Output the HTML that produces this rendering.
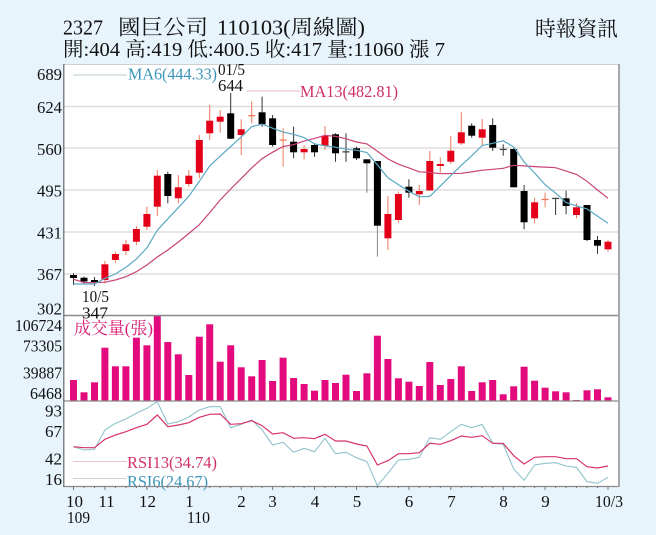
<!DOCTYPE html>
<html><head><meta charset="utf-8"><style>
html,body{margin:0;padding:0;background:#e8f4fc;}
svg{display:block;}
text{font-family:"Liberation Serif","Noto Serif CJK SC",serif;}
.r{fill:#e5001a;}
.b{fill:#000;}
.wr{stroke:#ee7a5a;stroke-width:1;}
.wb{stroke:#333;stroke-width:1;}
.grid{stroke:#dedede;stroke-width:1.5;}
.ax{font-size:17px;fill:#111;}
.v{fill:#e20a7c;}
</style></head><body>
<svg width="656" height="535" viewBox="0 0 656 535" xmlns="http://www.w3.org/2000/svg">
<rect x="0" y="0" width="656" height="535" fill="#e8f4fc"/>
<text x="63" y="34.5" font-size="21" textLength="40" lengthAdjust="spacingAndGlyphs" fill="#111">2327</text>
<text x="118" y="34.5" font-size="21" textLength="90" lengthAdjust="spacingAndGlyphs" fill="#111">國巨公司</text>
<text x="217" y="34.5" font-size="21" textLength="148" lengthAdjust="spacingAndGlyphs" fill="#111">110103(周線圖)</text>
<text x="63" y="56" font-size="20" textLength="382" lengthAdjust="spacingAndGlyphs" fill="#111">開:404 高:419 低:400.5 收:417 量:11060 漲 7</text>
<text x="535" y="36" font-size="21" textLength="83" lengthAdjust="spacingAndGlyphs" fill="#111">時報資訊</text>
<rect x="64" y="64" width="554" height="422" fill="#fff"/>
<line x1="64" y1="64.5" x2="618" y2="64.5" stroke="#d0d0d0" stroke-width="1"/>
<line class="grid" x1="64" y1="106.5" x2="618" y2="106.5"/>
<line class="grid" x1="64" y1="148" x2="618" y2="148"/>
<line class="grid" x1="64" y1="190" x2="618" y2="190"/>
<line class="grid" x1="64" y1="232" x2="618" y2="232"/>
<line class="grid" x1="64" y1="274" x2="618" y2="274"/>
<g class="ax" text-anchor="end">
<text x="62" y="80" textLength="25" lengthAdjust="spacingAndGlyphs">689</text>
<text x="62" y="113" textLength="25" lengthAdjust="spacingAndGlyphs">624</text>
<text x="62" y="155" textLength="25" lengthAdjust="spacingAndGlyphs">560</text>
<text x="62" y="196.5" textLength="25" lengthAdjust="spacingAndGlyphs">495</text>
<text x="62" y="238.5" textLength="25" lengthAdjust="spacingAndGlyphs">431</text>
<text x="62" y="280" textLength="25" lengthAdjust="spacingAndGlyphs">367</text>
<text x="62" y="314.5" textLength="25" lengthAdjust="spacingAndGlyphs">302</text>
</g>
<line x1="73" y1="75" x2="127" y2="75" stroke="#b9cdd3" stroke-width="1"/>
<text x="128" y="79.5" font-size="17" fill="#3a95b8" textLength="89" lengthAdjust="spacingAndGlyphs">MA6(444.33)</text>
<text x="218" y="75" font-size="17" fill="#111" textLength="27" lengthAdjust="spacingAndGlyphs">01/5</text>
<text x="218" y="91" font-size="17" fill="#111" textLength="25" lengthAdjust="spacingAndGlyphs">644</text>
<line x1="247" y1="91" x2="300" y2="91" stroke="#e6b5c8" stroke-width="1"/>
<text x="300" y="97" font-size="17" fill="#d0306a" textLength="98" lengthAdjust="spacingAndGlyphs">MA13(482.81)</text>
<g>
<line class="wb" x1="73.5" y1="273.3" x2="73.5" y2="285"/><rect class="b" x="70" y="275" width="7" height="3"/>
<line class="wb" x1="84" y1="276.5" x2="84" y2="284"/><rect class="b" x="80.5" y="277.7" width="7" height="3.8"/>
<line class="wb" x1="94.5" y1="277" x2="94.5" y2="286"/><rect class="b" x="91" y="280" width="7" height="2"/>
<line class="wr" x1="104.9" y1="261" x2="104.9" y2="283.5"/><rect class="r" x="101.4" y="264.3" width="7" height="15.7"/>
<line class="wr" x1="115.4" y1="251.7" x2="115.4" y2="263"/><rect class="r" x="111.9" y="254" width="7" height="6"/>
<line class="wr" x1="125.9" y1="240" x2="125.9" y2="255"/><rect class="r" x="122.4" y="244.3" width="7" height="6.7"/>
<line class="wr" x1="136.4" y1="226" x2="136.4" y2="245"/><rect class="r" x="132.9" y="229" width="7" height="12.7"/>
<line class="wr" x1="146.9" y1="206.7" x2="146.9" y2="230"/><rect class="r" x="143.4" y="214" width="7" height="12.7"/>
<line class="wr" x1="157.3" y1="170" x2="157.3" y2="216"/><rect class="r" x="153.8" y="175.7" width="7" height="31"/>
<line class="wb" x1="167.8" y1="171.7" x2="167.8" y2="203.3"/><rect class="b" x="164.3" y="174" width="7" height="22"/>
<line class="wr" x1="178.3" y1="175" x2="178.3" y2="203.3"/><rect class="r" x="174.8" y="187.3" width="7" height="11"/>
<line class="wr" x1="188.8" y1="170" x2="188.8" y2="186.7"/><rect class="r" x="185.3" y="175.7" width="7" height="8.3"/>
<line class="wr" x1="199.3" y1="135" x2="199.3" y2="178.3"/><rect class="r" x="195.8" y="140" width="7" height="32.7"/>
<line class="wr" x1="209.7" y1="105" x2="209.7" y2="140"/><rect class="r" x="206.2" y="120.7" width="7" height="12.6"/>
<line class="wr" x1="220.2" y1="110" x2="220.2" y2="132.7"/><rect class="r" x="216.7" y="116.7" width="7" height="5"/>
<line class="wb" x1="230.7" y1="93" x2="230.7" y2="139"/><rect class="b" x="227.2" y="113.3" width="7" height="25.4"/>
<line class="wr" x1="241.2" y1="119.3" x2="241.2" y2="155"/><rect class="r" x="237.7" y="129.3" width="7" height="5.7"/>
<line class="wr" x1="251.7" y1="101.5" x2="251.7" y2="123.3"/><rect fill="#ee7a5a" x="248.2" y="115" width="7" height="1.3"/>
<line class="wb" x1="262.1" y1="96.7" x2="262.1" y2="126.7"/><rect class="b" x="258.6" y="112.3" width="7" height="12"/>
<line class="wb" x1="272.6" y1="115" x2="272.6" y2="146.7"/><rect class="b" x="269.1" y="118.3" width="7" height="26.7"/>
<line class="wr" x1="283.1" y1="128.3" x2="283.1" y2="166.7"/><rect fill="#ee7a5a" x="279.6" y="139.5" width="7" height="1.3"/>
<line class="wb" x1="293.6" y1="126.7" x2="293.6" y2="158.3"/><rect class="b" x="290.1" y="141.7" width="7" height="10.6"/>
<line class="wr" x1="304.1" y1="145" x2="304.1" y2="159.3"/><rect class="r" x="300.6" y="149" width="7" height="3.3"/>
<line class="wb" x1="314.5" y1="143.3" x2="314.5" y2="156.7"/><rect class="b" x="311" y="145" width="7" height="7.3"/>
<line class="wr" x1="325" y1="126" x2="325" y2="150"/><rect class="r" x="321.5" y="136" width="7" height="9.7"/>
<line class="wb" x1="335.5" y1="133.3" x2="335.5" y2="161.7"/><rect class="b" x="332" y="134.3" width="7" height="19"/>
<line class="wb" x1="346" y1="133.3" x2="346" y2="161.7"/><rect fill="#444" x="342.5" y="151.2" width="7" height="1.3"/>
<line class="wb" x1="356.5" y1="146.7" x2="356.5" y2="160"/><rect class="b" x="353" y="148.3" width="7" height="10"/>
<line stroke="#777" x1="366.9" y1="159.3" x2="366.9" y2="192.7"/><rect class="b" x="363.4" y="159.3" width="7" height="4"/>
<line stroke="#888" x1="377.4" y1="161" x2="377.4" y2="256.7"/><rect class="b" x="373.9" y="161" width="7" height="64.7"/>
<line class="wr" x1="387.9" y1="196" x2="387.9" y2="250"/><rect class="r" x="384.4" y="214" width="7" height="24.3"/>
<line class="wr" x1="398.4" y1="191.7" x2="398.4" y2="222.7"/><rect class="r" x="394.9" y="194" width="7" height="26"/>
<line class="wb" x1="408.9" y1="179.3" x2="408.9" y2="197.7"/><rect class="b" x="405.4" y="186.7" width="7" height="6"/>
<line class="wr" x1="419.3" y1="185" x2="419.3" y2="205"/><rect class="r" x="415.8" y="191" width="7" height="3.3"/>
<line class="wr" x1="429.8" y1="151" x2="429.8" y2="190.5"/><rect class="r" x="426.3" y="161" width="7" height="29.5"/>
<line class="wr" x1="440.3" y1="157.3" x2="440.3" y2="172.7"/><rect class="r" x="436.8" y="164" width="7" height="2"/>
<line class="wr" x1="450.8" y1="136" x2="450.8" y2="164"/><rect class="r" x="447.3" y="150.7" width="7" height="11"/>
<line class="wr" x1="461.3" y1="112.3" x2="461.3" y2="145"/><rect class="r" x="457.8" y="132.3" width="7" height="11"/>
<line class="wb" x1="471.7" y1="123.3" x2="471.7" y2="137.7"/><rect class="b" x="468.2" y="125.7" width="7" height="10"/>
<line class="wr" x1="482.2" y1="119" x2="482.2" y2="145"/><rect class="r" x="478.7" y="129.3" width="7" height="8.4"/>
<line class="wb" x1="492.7" y1="118.3" x2="492.7" y2="151"/><rect class="b" x="489.2" y="125" width="7" height="22.7"/>
<line class="wb" x1="503.2" y1="144.3" x2="503.2" y2="155.7"/><rect fill="#444" x="499.7" y="148.8" width="7" height="1.3"/>
<line class="wb" x1="513.7" y1="148.3" x2="513.7" y2="187.3"/><rect class="b" x="510.2" y="149" width="7" height="38.3"/>
<line class="wb" x1="524.1" y1="185" x2="524.1" y2="229.3"/><rect class="b" x="520.6" y="191" width="7" height="31.3"/>
<line class="wr" x1="534.6" y1="197.7" x2="534.6" y2="223.3"/><rect class="r" x="531.1" y="202.3" width="7" height="16"/>
<line class="wr" x1="545.1" y1="192.7" x2="545.1" y2="207.3"/><rect fill="#ee7a5a" x="541.6" y="198.8" width="7" height="1.3"/>
<line class="wb" x1="555.6" y1="197.7" x2="555.6" y2="215"/><rect fill="#444" x="552.1" y="197.8" width="7" height="1.3"/>
<line class="wb" x1="566.1" y1="190.7" x2="566.1" y2="214.3"/><rect class="b" x="562.6" y="198.3" width="7" height="7.7"/>
<line class="wr" x1="576.5" y1="203.3" x2="576.5" y2="218.3"/><rect class="r" x="573" y="207.3" width="7" height="7.7"/>
<line class="wb" x1="587" y1="205" x2="587" y2="241"/><rect class="b" x="583.5" y="205" width="7" height="35"/>
<line class="wb" x1="597.5" y1="236" x2="597.5" y2="254"/><rect class="b" x="594" y="240" width="7" height="5.7"/>
<line class="wr" x1="608" y1="240" x2="608" y2="251.7"/><rect class="r" x="604.5" y="241.7" width="7" height="7.6"/>
</g>
<polyline fill="none" stroke="#c9437a" stroke-width="1.2" points="73.5,279.3 84,282.5 94.5,282.7 104.9,282.2 115.4,280 125.9,276.7 136.4,271.7 146.9,265 157.3,257 167.8,250 178.3,242 188.8,233.5 199.3,224.7 209.7,212.6 220.2,200 230.7,189 241.2,178.6 251.7,167.9 262.1,158.6 272.6,152.2 283.1,146.5 293.6,144.7 304.1,141.1 314.5,138.4 325,135.3 335.5,136.4 346,138.8 356.5,142 366.9,143.9 377.4,151.3 387.9,158.9 398.4,164.2 408.9,167.9 419.3,171.8 429.8,172.5 440.3,173.7 450.8,173.5 461.3,173.3 471.7,171.9 482.2,170.2 492.7,169.3 503.2,168.3 513.7,165.3 524.1,165.9 534.6,166.6 545.1,167.1 555.6,167.7 566.1,171.1 576.5,174.4 587,181.3 597.5,190 608,198.2"/>
<polyline fill="none" stroke="#5aa8c4" stroke-width="1.2" points="73.5,284 84,284 94.5,284 104.9,278.3 115.4,274 125.9,267.3 136.4,259.1 146.9,247.9 157.3,230.2 167.8,218.8 178.3,207.7 188.8,196.3 199.3,181.4 209.7,165.9 220.2,156.1 230.7,146.5 241.2,136.9 251.7,126.7 262.1,124.1 272.6,128.2 283.1,132.1 293.6,134.3 304.1,137.6 314.5,143.8 325,145.8 335.5,147.2 346,149.2 356.5,150.2 366.9,152.5 377.4,164.8 387.9,177.8 398.4,184.6 408.9,191.3 419.3,196.8 429.8,196.4 440.3,186.1 450.8,175.6 461.3,165.3 471.7,155.8 482.2,145.5 492.7,143.3 503.2,140.8 513.7,146.9 524.1,161.9 534.6,173 545.1,184.7 555.6,193.1 566.1,202.6 576.5,205.9 587,208.9 597.5,216.1 608,223.2"/>
<text x="82" y="302" font-size="17" fill="#111" textLength="27" lengthAdjust="spacingAndGlyphs">10/5</text>
<g class="v">
<rect x="70" y="380" width="7" height="21"/>
<rect x="80.5" y="392.3" width="7" height="8.7"/>
<rect x="91" y="382.3" width="7" height="18.7"/>
<rect x="101.4" y="347.7" width="7" height="53.3"/>
<rect x="111.9" y="366.3" width="7" height="34.7"/>
<rect x="122.4" y="366.3" width="7" height="34.7"/>
<rect x="132.9" y="337.7" width="7" height="63.3"/>
<rect x="143.4" y="345.3" width="7" height="55.7"/>
<rect x="153.8" y="315.7" width="7" height="85.3"/>
<rect x="164.3" y="342" width="7" height="59"/>
<rect x="174.8" y="354.3" width="7" height="46.7"/>
<rect x="185.3" y="375" width="7" height="26"/>
<rect x="195.8" y="336.7" width="7" height="64.3"/>
<rect x="206.2" y="324.3" width="7" height="76.7"/>
<rect x="216.7" y="361.7" width="7" height="39.3"/>
<rect x="227.2" y="345.3" width="7" height="55.7"/>
<rect x="237.7" y="367.3" width="7" height="33.7"/>
<rect x="248.2" y="376.3" width="7" height="24.7"/>
<rect x="258.6" y="360" width="7" height="41"/>
<rect x="269.1" y="381" width="7" height="20"/>
<rect x="279.6" y="357.7" width="7" height="43.3"/>
<rect x="290.1" y="378" width="7" height="23"/>
<rect x="300.6" y="384" width="7" height="17"/>
<rect x="311" y="390.7" width="7" height="10.3"/>
<rect x="321.5" y="380" width="7" height="21"/>
<rect x="332" y="383" width="7" height="18"/>
<rect x="342.5" y="374.7" width="7" height="26.3"/>
<rect x="353" y="391" width="7" height="10"/>
<rect x="363.4" y="373.3" width="7" height="27.7"/>
<rect x="373.9" y="335.7" width="7" height="65.3"/>
<rect x="384.4" y="359" width="7" height="42"/>
<rect x="394.9" y="378.3" width="7" height="22.7"/>
<rect x="405.4" y="381.7" width="7" height="19.3"/>
<rect x="415.8" y="386" width="7" height="15"/>
<rect x="426.3" y="362" width="7" height="39"/>
<rect x="436.8" y="385" width="7" height="16"/>
<rect x="447.3" y="379" width="7" height="22"/>
<rect x="457.8" y="366.3" width="7" height="34.7"/>
<rect x="468.2" y="391" width="7" height="10"/>
<rect x="478.7" y="382.3" width="7" height="18.7"/>
<rect x="489.2" y="380" width="7" height="21"/>
<rect x="499.7" y="394.3" width="7" height="6.7"/>
<rect x="510.2" y="386.3" width="7" height="14.7"/>
<rect x="520.6" y="366.7" width="7" height="34.3"/>
<rect x="531.1" y="380.7" width="7" height="20.3"/>
<rect x="541.6" y="387.7" width="7" height="13.3"/>
<rect x="552.1" y="391.3" width="7" height="9.7"/>
<rect x="562.6" y="392.3" width="7" height="8.7"/>
<rect x="573" y="400" width="7" height="1"/>
<rect x="583.5" y="390.3" width="7" height="10.7"/>
<rect x="594" y="389.3" width="7" height="11.7"/>
<rect x="604.5" y="397.3" width="7" height="3.7"/>
</g>
<line x1="64" y1="315.5" x2="618" y2="315.5" stroke="#8a8a8a" stroke-width="1.5"/>
<line x1="64" y1="401" x2="618" y2="401" stroke="#8a8a8a" stroke-width="1.2"/>
<text x="82" y="318.5" font-size="17" fill="#111" textLength="26" lengthAdjust="spacingAndGlyphs">347</text>
<text x="74" y="334" font-size="17" fill="#d81b72" textLength="79" lengthAdjust="spacingAndGlyphs">成交量(張)</text>
<g class="ax" text-anchor="end">
<text x="62" y="331" textLength="47" lengthAdjust="spacingAndGlyphs">106724</text>
<text x="62" y="351.5" textLength="39" lengthAdjust="spacingAndGlyphs">73305</text>
<text x="62" y="378.5" textLength="39" lengthAdjust="spacingAndGlyphs">39887</text>
<text x="62" y="399" textLength="32" lengthAdjust="spacingAndGlyphs">6468</text>
</g>
<polyline fill="none" stroke="#8fc3cc" stroke-width="1.1" points="73.5,446.7 84,450 94.5,449.3 104.9,430 115.4,423.3 125.9,419 136.4,413.3 146.9,408.3 157.3,401.7 167.8,424 178.3,421.7 188.8,417 199.3,410 209.7,406.7 220.2,406.7 230.7,427.7 241.2,424.3 251.7,420 262.1,430 272.6,445 283.1,442.3 293.6,452.3 304.1,448.3 314.5,451.7 325,438.3 335.5,453.7 346,452.3 356.5,457.7 366.9,461.7 377.4,485.7 387.9,473.3 398.4,460 408.9,459.3 419.3,457.3 429.8,437.7 440.3,439.3 450.8,431.7 461.3,424.3 471.7,427.7 482.2,424.3 492.7,443.3 503.2,444.3 513.7,469 524.1,480.3 534.6,465 545.1,463.3 555.6,462.7 566.1,466 576.5,467.3 587,481.7 597.5,483.3 608,477.3"/>
<polyline fill="none" stroke="#d6336c" stroke-width="1.2" points="73.5,446.7 84,447.7 94.5,447.7 104.9,439.3 115.4,435 125.9,431.7 136.4,427.7 146.9,424.3 157.3,415 167.8,426.7 178.3,425 188.8,422.7 199.3,417.3 209.7,414.3 220.2,414 230.7,424.3 241.2,423.7 251.7,420.7 262.1,425.7 272.6,434 283.1,432.7 293.6,438.3 304.1,437.7 314.5,438.7 325,434.3 335.5,441 346,441 356.5,444 366.9,446 377.4,465 387.9,460.7 398.4,453.7 408.9,453.7 419.3,452.7 429.8,443.3 440.3,444.3 450.8,440.7 461.3,436 471.7,437.3 482.2,435.7 492.7,443.3 503.2,443.3 513.7,455.7 524.1,464 534.6,457.3 545.1,456.7 555.6,456.7 566.1,458.7 576.5,458.7 587,466.7 597.5,468 608,466"/>
<line x1="73" y1="461.5" x2="127" y2="461.5" stroke="#ecc3d2" stroke-width="1"/>
<text x="127" y="468" font-size="17" fill="#d0306a" textLength="90" lengthAdjust="spacingAndGlyphs">RSI13(34.74)</text>
<line x1="73" y1="478.5" x2="127" y2="478.5" stroke="#c8d3d6" stroke-width="1"/>
<text x="127" y="487" font-size="17" fill="#3a95b8" textLength="81" lengthAdjust="spacingAndGlyphs">RSI6(24.67)</text>
<g class="ax" text-anchor="end">
<text x="62" y="416.5" textLength="17" lengthAdjust="spacingAndGlyphs">93</text>
<text x="62" y="437" textLength="17" lengthAdjust="spacingAndGlyphs">67</text>
<text x="62" y="464.5" textLength="17" lengthAdjust="spacingAndGlyphs">42</text>
<text x="62" y="485" textLength="17" lengthAdjust="spacingAndGlyphs">16</text>
</g>
<line x1="63.8" y1="64" x2="63.8" y2="487" stroke="#666" stroke-width="1.2"/>
<line x1="64" y1="486.5" x2="619" y2="486.5" stroke="#888" stroke-width="1.2"/>
<line x1="619" y1="64" x2="619" y2="487" stroke="#a8a8a8" stroke-width="2"/>
<path stroke="#777" stroke-width="1" fill="none" d="M73.5 486v4M84 486v2M94.5 486v2M104.9 486v4M115.4 486v2M125.9 486v2M136.4 486v2M146.9 486v4M157.3 486v2M167.8 486v2M178.3 486v2M188.8 486v4M199.3 486v2M209.7 486v2M220.2 486v2M230.7 486v2M241.2 486v4M251.7 486v2M262.1 486v2M272.6 486v4M283.1 486v2M293.6 486v2M304.1 486v2M314.5 486v4M325 486v2M335.5 486v2M346 486v2M356.5 486v4M366.9 486v2M377.4 486v2M387.9 486v2M398.4 486v2M408.9 486v4M419.3 486v2M429.8 486v2M440.3 486v2M450.8 486v4M461.3 486v2M471.7 486v2M482.2 486v2M492.7 486v2M503.2 486v4M513.7 486v2M524.1 486v2M534.6 486v2M545.1 486v4M555.6 486v2M566.1 486v2M576.5 486v2M587 486v2M597.5 486v2M608 486v4"/>
<g class="ax" text-anchor="middle">
<text x="74.5" y="507">10</text>
<text x="106.5" y="507">11</text>
<text x="147.5" y="507">12</text>
<text x="189.5" y="507">1</text>
<text x="241.5" y="507">2</text>
<text x="272.5" y="507">3</text>
<text x="315" y="507">4</text>
<text x="357" y="507">5</text>
<text x="409" y="507">6</text>
<text x="451.5" y="507">7</text>
<text x="503.5" y="507">8</text>
<text x="545.5" y="507">9</text>
<text x="609" y="507" textLength="28" lengthAdjust="spacingAndGlyphs">10/3</text>
<text x="78.5" y="523" textLength="23" lengthAdjust="spacingAndGlyphs">109</text>
<text x="198.5" y="523" textLength="23" lengthAdjust="spacingAndGlyphs">110</text>
</g>
</svg>
</body></html>
